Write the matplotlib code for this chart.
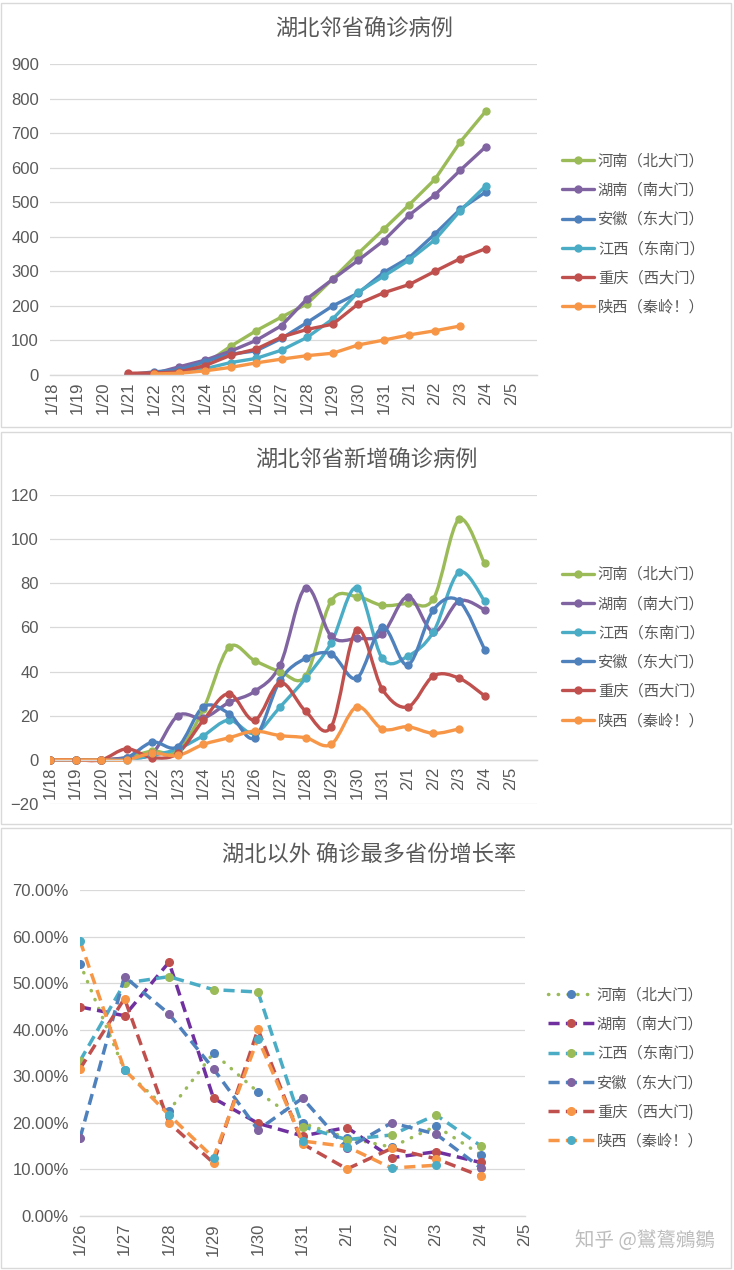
import numpy as np
import matplotlib
matplotlib.use('Agg')
import matplotlib.pyplot as plt
from matplotlib.path import Path
from matplotlib.patches import PathPatch, Rectangle
from matplotlib.lines import Line2D

plt.rcParams['font.family'] = ['Noto Sans CJK SC', 'DejaVu Sans']

nan = np.nan
# ---------------- data ----------------
dates_a = ['1/18', '1/19', '1/20', '1/21', '1/22', '1/23', '1/24', '1/25', '1/26', '1/27',
           '1/28', '1/29', '1/30', '1/31', '2/1', '2/2', '2/3', '2/4', '2/5']
dates_b = ['1/26', '1/27', '1/28', '1/29', '1/30', '1/31', '2/1', '2/2', '2/3', '2/4', '2/5']

names1 = ['河南（北大门）', '湖南（南大门）', '安徽（东大门）', '江西（东南门）', '重庆（西大门）', '陕西（秦岭！）']
names2 = ['河南（北大门）', '湖南（南大门）', '江西（东南门）', '安徽（东大门）', '重庆（西大门）', '陕西（秦岭！）']
names3 = ['河南（北大门）', '湖南（南大门）', '江西（东南门）', '安徽（东大门）', '重庆（西大门)', '陕西（秦岭！）']

# cumulative confirmed cases (chart 1)
cum_henan = [nan, nan, nan, 1, 5, 9, 32, 83, 128, 168, 206, 278, 352, 422, 493, 566, 675, 764]
cum_hunan = [nan, nan, nan, 1, 4, 24, 43, 69, 100, 143, 221, 277, 332, 389, 463, 521, 593, 661]
cum_anhui = [nan, nan, nan, 1, 9, 15, 39, 60, 70, 106, 152, 200, 237, 297, 340, 408, 480, 530]
cum_jiangxi = [nan, nan, nan, nan, 2, 7, 18, 36, 48, 72, 109, 162, 240, 286, 333, 391, 476, 548]
cum_chongqing = [nan, nan, nan, 5, 6, 9, 27, 57, 75, 110, 132, 147, 206, 238, 262, 300, 337, 366]
cum_shaanxi = [nan, nan, nan, nan, 3, 5, 12, 22, 35, 46, 56, 63, 87, 101, 116, 128, 142]

# daily new confirmed cases (chart 2)
new_henan = [0, 0, 0, 1, 4, 4, 23, 51, 45, 40, 38, 72, 74, 70, 71, 73, 109, 89]
new_hunan = [0, 0, 0, 1, 3, 20, 19, 26, 31, 43, 78, 56, 55, 57, 74, 58, 72, 68]
new_jiangxi = [0, 0, 0, 0, 2, 5, 11, 18, 12, 24, 37, 53, 78, 46, 47, 58, 85, 72]
new_anhui = [0, 0, 0, 1, 8, 6, 24, 21, 10, 36, 46, 48, 37, 60, 43, 68, 72, 50]
new_chongqing = [0, 0, 0, 5, 1, 3, 18, 30, 18, 35, 22, 15, 59, 32, 24, 38, 37, 29]
new_shaanxi = [0, 0, 0, 0, 3, 2, 7, 10, 13, 11, 10, 7, 24, 14, 15, 12, 14]

# growth rate in % (chart 3)
gr_henan = [54.2, 31.3, 22.6, 35.0, 26.6, 19.9, 16.8, 14.8, 19.3, 13.2]
gr_hunan = [44.9, 43.0, 54.5, 25.3, 19.9, 17.2, 19.0, 12.5, 13.8, 11.5]
gr_jiangxi = [33.3, 50.0, 51.4, 48.6, 48.1, 19.2, 16.4, 17.4, 21.7, 15.1]
gr_anhui = [16.7, 51.4, 43.4, 31.6, 18.5, 25.3, 14.5, 20.0, 17.6, 10.4]
gr_chongqing = [31.6, 46.7, 20.0, 11.4, 40.1, 15.5, 10.1, 14.5, 12.3, 8.6]
gr_shaanxi = [59.1, 31.4, 21.7, 12.5, 38.1, 16.1, 14.9, 10.3, 10.9]

# ---------------- style ----------------
GREEN, PURPLE, BLUE, CYAN, RED, ORANGE = '#9BBB59', '#8064A2', '#4F81BD', '#4BACC6', '#C0504D', '#F79646'
DPURPLE = '#7030A0'
GRID = '#D9D9D9'
TXT = '#595959'
NUMFONT = ['Liberation Sans', 'DejaVu Sans']
CJK = ['Noto Sans CJK SC', 'Noto Sans CJK TC', 'DejaVu Sans']

W, H = 734, 1270
fig = plt.figure(figsize=(W / 100, H / 100), dpi=100)


def fx(px):
    return px / W


def fy(py):
    return 1 - py / H


# panel borders
for top, bot in [(3, 427), (432, 824), (828, 1268)]:
    fig.patches.append(Rectangle((fx(1), fy(bot)), fx(730), (bot - top) / H, transform=fig.transFigure,
                                 fill=False, edgecolor=GRID, lw=1.0, zorder=0))


def make_ax(left, right, top, bottom):
    ax = fig.add_axes([fx(left), fy(bottom), (right - left) / W, (bottom - top) / H])
    for s in ['top', 'right', 'left']:
        ax.spines[s].set_visible(False)
    ax.spines['bottom'].set_color(GRID)
    ax.spines['bottom'].set_linewidth(1.0)
    ax.grid(axis='y', color=GRID, lw=0.9)
    ax.set_axisbelow(True)
    ax.tick_params(length=0, colors=TXT)
    return ax


def style_ticks(ax, labels, ysize=12, xsize=12, xpad=5):
    ax.set_xticks(range(len(labels)))
    ax.set_xticklabels(labels, rotation=90, fontsize=xsize, family=NUMFONT, color=TXT)
    for t in ax.get_yticklabels():
        t.set_fontfamily(NUMFONT)
        t.set_fontsize(ysize)
        t.set_color(TXT)
    ax.tick_params(axis='x', pad=xpad)
    ax.tick_params(axis='y', pad=8)


def smooth_path(xs, ys):
    pts = np.column_stack([xs, ys])
    n = len(pts)
    verts = [pts[0]]
    codes = [Path.MOVETO]
    for i in range(n - 1):
        p0 = pts[i - 1] if i > 0 else pts[i]
        p1 = pts[i]
        p2 = pts[i + 1]
        p3 = pts[i + 2] if i + 2 < n else pts[i + 1]
        c1 = p1 + (p2 - p0) / 6.0
        c2 = p2 - (p3 - p1) / 6.0
        verts += [c1, c2, p2]
        codes += [Path.CURVE4] * 3
    return Path(verts, codes)


def style_legend(leg):
    for t in leg.get_texts():
        t.set_color(TXT)
        t.set_fontfamily(CJK)


# ---------------- chart 1 ----------------
ax1 = make_ax(50, 537, 64, 375)
series1 = [cum_henan, cum_hunan, cum_anhui, cum_jiangxi, cum_chongqing, cum_shaanxi]
colors1 = [GREEN, PURPLE, BLUE, CYAN, RED, ORANGE]
for vals, c, nm in zip(series1, colors1, names1):
    x = np.arange(len(vals))
    ax1.plot(x, vals, color=c, lw=2.4, marker='o', ms=5, solid_capstyle='round', label=nm)
ax1.set_xlim(-0.07, 19.0)
ax1.set_ylim(0, 900)
ax1.set_yticks(range(0, 901, 100))
style_ticks(ax1, dates_a)
leg1 = ax1.legend(loc='center left', bbox_to_anchor=(fx(562), fy(234)), bbox_transform=fig.transFigure,
                  frameon=False, fontsize=11, handlelength=2.1, handletextpad=0.25, labelspacing=0.8,
                  borderpad=0, borderaxespad=0)
style_legend(leg1)

# ---------------- chart 2 ----------------
ax2 = make_ax(50, 537, 495, 804)
series2 = [new_henan, new_hunan, new_jiangxi, new_anhui, new_chongqing, new_shaanxi]
colors2 = [GREEN, PURPLE, CYAN, BLUE, RED, ORANGE]
handles2 = []
for vals, c, nm in zip(series2, colors2, names2):
    x = np.arange(len(vals), dtype=float)
    y = np.array(vals, dtype=float)
    ax2.add_patch(PathPatch(smooth_path(x, y), fill=False, edgecolor=c, lw=2.4,
                            capstyle='round', joinstyle='round', zorder=2))
    ax2.plot(x, y, ls='none', marker='o', ms=5, color=c, zorder=3)
    handles2.append(Line2D([], [], color=c, lw=2.4, marker='o', ms=5, solid_capstyle='round'))
ax2.set_xlim(0, 19.05)
ax2.set_ylim(-20, 120)
ax2.set_yticks(range(-20, 121, 20))
ax2.spines['bottom'].set_position(('data', 0))
style_ticks(ax2, dates_a)
leg2 = ax2.legend(handles2, names2, loc='center left', bbox_to_anchor=(fx(562), fy(647.5)),
                  bbox_transform=fig.transFigure, frameon=False, fontsize=11, handlelength=2.1,
                  handletextpad=0.25, labelspacing=0.8, borderpad=0, borderaxespad=0)
style_legend(leg2)

# ---------------- chart 3 ----------------
ax3 = make_ax(80, 525, 890, 1216)
series3 = [gr_henan, gr_hunan, gr_jiangxi, gr_anhui, gr_chongqing, gr_shaanxi]
lcolors3 = [GREEN, DPURPLE, CYAN, BLUE, RED, ORANGE]
mcolors3 = [BLUE, RED, GREEN, PURPLE, ORANGE, CYAN]
styles3 = [(0, (0.1, 2.7)), (0, (3.2, 1.8)), (0, (3.2, 1.8)), (0, (3.2, 1.8)), (0, (3.2, 1.8)), (0, (3.2, 1.8))]
for vals, lc, mc, ls, nm in zip(series3, lcolors3, mcolors3, styles3, names3):
    x = np.arange(len(vals))
    y = np.array(vals) / 100.0
    ax3.plot(x, y, color=lc, lw=2.5, ls=ls, dash_capstyle='round' if nm.startswith('河南') else 'butt',
             marker='o', ms=5.5, markerfacecolor=mc, markeredgecolor=mc, label=nm)
ax3.set_xlim(0, 10)
ax3.set_ylim(0, 0.7)
ax3.set_yticks(np.arange(0, 0.71, 0.1))
ax3.set_yticklabels(['%.2f%%' % (v * 100) for v in np.arange(0, 0.71, 0.1)])
style_ticks(ax3, dates_b)
leg3 = ax3.legend(loc='center left', bbox_to_anchor=(fx(548), fy(1068)), bbox_transform=fig.transFigure,
                  frameon=False, fontsize=11, handlelength=3.0, handletextpad=0.2, labelspacing=0.8,
                  borderpad=0, borderaxespad=0)
style_legend(leg3)

# ---------------- titles ----------------
tkw = dict(ha='center', va='center', fontsize=16, color=TXT, family=CJK, fontweight='light')
fig.text(fx(364), fy(29), '湖北邻省确诊病例', **tkw)
fig.text(fx(366), fy(460), '湖北邻省新增确诊病例', **tkw)
fig.text(fx(369), fy(855), '湖北以外 确诊最多省份增长率', **tkw)

# watermark
fig.text(fx(575), fy(1240), '知乎 @鸑鷟鵷鶵', ha='left', va='center', fontsize=14, color='#BDBDBD', family=CJK)

fig.savefig('out.png', dpi=100, facecolor='white')
